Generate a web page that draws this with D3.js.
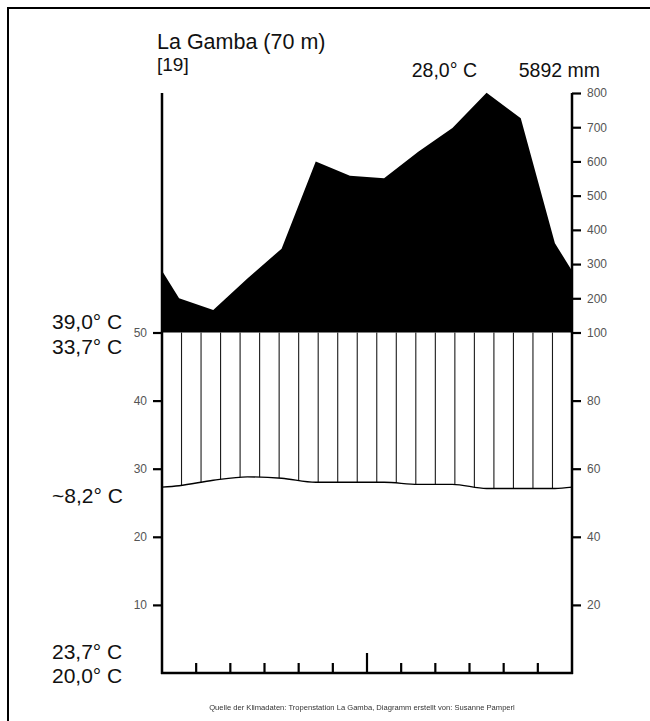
<!DOCTYPE html>
<html>
<head>
<meta charset="utf-8">
<script src="https://cdn.jsdelivr.net/npm/d3@7"></script>
<style>
  body { margin: 0; background: #fff; }
  svg { display: block; }
  text { font-family: "Liberation Sans", Arial, Helvetica, sans-serif; }
</style>
</head>
<body>
<svg id="chart" width="650" height="721"></svg>
<script>
// Climate diagram (Walter–Lieth) for La Gamba, Costa Rica
const months = ["Jan", "Feb", "Mär", "Apr", "Mai", "Jun", "Jul", "Aug", "Sep", "Okt", "Nov", "Dez"];
const temperature = [27.5, 28.3, 28.8, 28.6, 28.0, 28.0, 28.0, 27.7, 27.7, 27.1, 27.1, 27.1]; // °C
const precipitation = [200, 166, 258, 345, 600, 558, 551, 628, 698, 801, 726, 361];          // mm

const tempTicks = [10, 20, 30, 40, 50];
const precipTicks = [20, 40, 60, 80, 100, 200, 300, 400, 500, 600, 700, 800];

const stationTitle = "La Gamba (70 m)";
const yearsLabel = "[19]";
const meanTempLabel = "28,0° C";
const totalPrecipLabel = "5892 mm";
const sideLabels = [
  { text: "39,0° C", t: 51.5 },
  { text: "33,7° C", t: 47.8 },
  { text: "~8,2° C", t: 26.0 },
  { text: "23,7° C", t: 3.1 },
  { text: "20,0° C", t: -0.4 }
];
const sourceNote = "Quelle der Klimadaten: Tropenstation La Gamba, Diagramm erstellt von: Susanne Pamperl";

const svg = d3.select("#chart");

// grey-only rendering for the tiny source note
const defs = svg.append("defs");
defs.append("filter").attr("id", "mono")
  .append("feColorMatrix").attr("type", "saturate").attr("values", 0);

// frame
svg.append("path")
  .attr("d", "M8,721V8H650")
  .attr("fill", "none").attr("stroke", "#000").attr("stroke-width", 2);

// scales
const x = d3.scaleLinear().domain([0, 12]).range([162, 572]);
const yT = d3.scaleLinear().domain([0, 50]).range([673, 332.5]);
const yP = d3.scaleLinear().domain([0, 100, 800]).range([673, 332.5, 93]);

// series incl. wrap-around values at the diagram edges
const edgeT = (temperature[11] + temperature[0]) / 2;
const edgeP = (precipitation[11] + precipitation[0]) / 2;
const series = [{ m: 0, t: edgeT, p: edgeP }]
  .concat(months.map((_, i) => ({ m: i + 0.5, t: temperature[i], p: precipitation[i] })))
  .concat([{ m: 12, t: edgeT, p: edgeP }]);

// perhumid part (> 100 mm) in black
const wetArea = d3.area()
  .x(d => x(d.m))
  .y0(yP(100))
  .y1(d => yP(Math.max(d.p, 100)));
svg.append("path").datum(series)
  .attr("d", wetArea)
  .attr("fill", "#000");

// humid period: vertical hatching between temperature curve and precipitation curve
const humidArea = d3.area()
  .curve(d3.curveMonotoneX)
  .x(d => x(d.m))
  .y0(d => yP(Math.min(d.p, 100)))
  .y1(d => yT(d.t));
defs.append("clipPath").attr("id", "humid")
  .append("path").datum(series).attr("d", humidArea);

const hatchCount = 20;
const hatch = d3.range(1, hatchCount + 1).map(k => k * 12 / (hatchCount + 1));
svg.append("g").attr("clip-path", "url(#humid)")
  .selectAll("line").data(hatch).join("line")
  .attr("x1", d => x(d)).attr("x2", d => x(d))
  .attr("y1", yP(800)).attr("y2", yT(0))
  .attr("stroke", "#1a1a1a").attr("stroke-width", 1.1);

// temperature curve
const tempLine = d3.line()
  .curve(d3.curveMonotoneX)
  .x(d => x(d.m))
  .y(d => yT(d.t));
svg.append("path").datum(series)
  .attr("d", tempLine)
  .attr("fill", "none").attr("stroke", "#000").attr("stroke-width", 1.4);

// left (temperature) axis
const leftAxis = d3.axisLeft(yT).tickValues(tempTicks).tickSize(9).tickPadding(6).tickSizeOuter(0);
const gL = svg.append("g").attr("transform", `translate(${x(0)},0)`).call(leftAxis);
gL.select(".domain").remove();
svg.append("line")
  .attr("x1", x(0)).attr("x2", x(0))
  .attr("y1", yP(800)).attr("y2", yT(0) + 1)
  .attr("stroke", "#000").attr("stroke-width", 2.5);

// right (precipitation) axis
const rightAxis = d3.axisRight(yP).tickValues(precipTicks).tickSize(9).tickPadding(6).tickSizeOuter(0);
const gR = svg.append("g").attr("transform", `translate(${x(12)},0)`).call(rightAxis);
gR.select(".domain").remove();
svg.append("line")
  .attr("x1", x(12)).attr("x2", x(12))
  .attr("y1", yP(800)).attr("y2", yT(0) + 1)
  .attr("stroke", "#000").attr("stroke-width", 2.5);

[gL, gR].forEach(g => {
  g.selectAll(".tick line").attr("stroke", "#000").attr("stroke-width", 2.2);
  g.selectAll(".tick text")
    .attr("font-size", 12)
    .attr("fill", "#555")
    .style("font-family", '"Liberation Sans", Arial, sans-serif');
});

// bottom axis with month boundaries
svg.append("line")
  .attr("x1", x(0) - 1).attr("x2", x(12) + 1)
  .attr("y1", yT(0)).attr("y2", yT(0))
  .attr("stroke", "#000").attr("stroke-width", 2.5);
svg.append("g").selectAll("line").data(d3.range(1, 12)).join("line")
  .attr("x1", d => x(d)).attr("x2", d => x(d))
  .attr("y1", yT(0)).attr("y2", d => yT(0) - (d === 6 ? 20 : 10))
  .attr("stroke", "#000").attr("stroke-width", 2.2);

// header
svg.append("text").attr("x", 157).attr("y", 49)
  .attr("font-size", 21.5).attr("fill", "#111").text(stationTitle);
svg.append("text").attr("x", 157).attr("y", 71)
  .attr("font-size", 19).attr("fill", "#111").text(yearsLabel);
svg.append("text").attr("x", 477).attr("y", 77).attr("text-anchor", "end")
  .attr("font-size", 19.5).attr("fill", "#111").text(meanTempLabel);
svg.append("text").attr("x", 600).attr("y", 77).attr("text-anchor", "end")
  .attr("font-size", 19.5).attr("fill", "#111").text(totalPrecipLabel);

// extreme / mean temperature values on the left
svg.append("g").selectAll("text").data(sideLabels).join("text")
  .attr("x", 52)
  .attr("y", d => yT(d.t) + 7)
  .attr("font-size", 21)
  .attr("fill", "#111")
  .text(d => d.text);

// source note
svg.append("text").attr("x", 362).attr("y", 710).attr("text-anchor", "middle")
  .attr("font-size", 7.6).attr("fill", "#333").attr("filter", "url(#mono)").text(sourceNote);
</script>
</body>
</html>
